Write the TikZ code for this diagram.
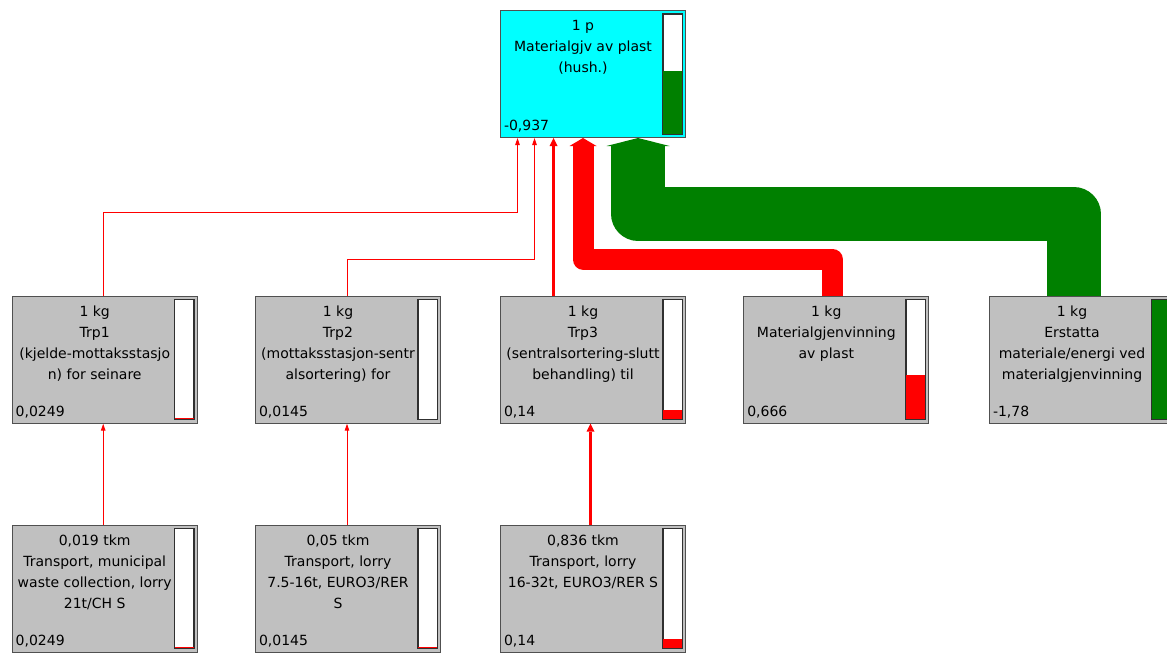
\documentclass[tikz,border=0pt]{standalone}
\usepackage{fontspec}
\setmainfont{DejaVu Sans}
\usetikzlibrary{arrows.meta,calc}
\definecolor{boxgray}{HTML}{C0C0C0}
\definecolor{topcyan}{HTML}{00FFFF}
\definecolor{flowred}{HTML}{FF0000}
\definecolor{flowgreen}{HTML}{008000}
\definecolor{edgegray}{HTML}{505050}
\definecolor{baredge}{HTML}{303030}
\tikzset{
  pbox/.style={draw=edgegray, line width=1pt, minimum width=185pt, minimum height=127pt, inner sep=0pt, anchor=north west},
  ptext/.style={align=center, inner sep=0pt, font=\fontsize{14}{21}\selectfont, anchor=north},
  pval/.style={inner sep=0pt, font=\fontsize{14}{21}\selectfont, anchor=base west},
  barbox/.style={draw=baredge, line width=1pt, fill=white, minimum width=19pt, minimum height=119.5pt, inner sep=0pt, anchor=north west},
  thinflow/.style={draw=flowred, line width=1pt, -{Triangle[length=7pt,width=4.5pt]}},
  midflow/.style={draw=flowred, line width=3.5pt, -{Triangle[length=8pt,width=8pt,line width=0pt]}},
  fatflow/.style={line width=#1, line join=round},
}
\newcommand\flowbox[8]{%
  \node[pbox, fill=#4] (#1) at (#2,#3) {};
  \node[ptext] (#1-t) at ($(#1.north west)+(83,10)$) {#5};
  \node[pval] (#1-v) at ($(#1.south west)+(3.8,-7.5)$) {#6};
  \node[barbox] (#1-b) at ($(#1.north west)+(162.5,3.5)$) {};
  \fill[#8] (#1-b.south west) rectangle ($(#1-b.south east)+(0,-#7*119.5)$);
  \draw[draw=baredge, line width=1pt] (#1-b.south west) rectangle (#1-b.north east);
}
\begin{document}
\begin{tikzpicture}[x=1pt,y=-1pt]
\useasboundingbox (0,0) rectangle (1167,653);
\clip (0,0) rectangle (1167,653);
% boxes
\flowbox{top}{500}{10}{topcyan}{1 p\\Materialgjv av plast\\(hush.)}{-0,937}{0.526}{flowgreen}
\flowbox{trp1}{11.7}{295.7}{boxgray}{1 kg\\Trp1\\(kjelde-mottaksstasjo\\n) for seinare}{0,0249}{0.015}{flowred}
\flowbox{trp2}{255}{295.7}{boxgray}{1 kg\\Trp2\\(mottaksstasjon-sentr\\alsortering) for}{0,0145}{0.009}{flowred}
\flowbox{trp3}{500}{295.7}{boxgray}{1 kg\\Trp3\\(sentralsortering-slutt\\behandling) til}{0,14}{0.079}{flowred}
\flowbox{mat}{743.3}{295.7}{boxgray}{1 kg\\Materialgjenvinning\\av plast}{0,666}{0.374}{flowred}
\flowbox{erst}{989}{295.7}{boxgray}{1 kg\\Erstatta\\materiale/energi ved\\materialgjenvinning}{-1,78}{1}{flowgreen}
\flowbox{tra}{11.7}{524.5}{boxgray}{0,019 tkm\\Transport, municipal\\waste collection, lorry\\21t/CH S}{0,0249}{0.015}{flowred}
\flowbox{trb}{255}{524.5}{boxgray}{0,05 tkm\\Transport, lorry\\7.5-16t, EURO3/RER\\S}{0,0145}{0.009}{flowred}
\flowbox{trc}{500}{524.5}{boxgray}{0,836 tkm\\Transport, lorry\\16-32t, EURO3/RER S}{0,14}{0.079}{flowred}
% connectors
\draw[fatflow=54pt, draw=flowgreen, -{Triangle[length=8pt,width=63pt,line width=0pt]}]
  ([xshift=-8.5pt]erst.north) -- ++(0,-82) -| ([xshift=45pt]top.south);
\draw[fatflow=21pt, draw=flowred, -{Triangle[length=8pt,width=27pt,line width=0pt]}]
  ([xshift=-4pt]mat.north) -- ++(0,-36.5) -| ([xshift=-10pt]top.south);
\draw[midflow] ([xshift=-39.5pt]trp3.north) -- ([xshift=-39.5pt]top.south);
\draw[thinflow] ([xshift=-1.5pt]trp1.north) -- ++(0,-83) -| ([xshift=-75.5pt]top.south);
\draw[thinflow] ([xshift=-1pt]trp2.north) -- ++(0,-36) -| ([xshift=-58.5pt]top.south);
\draw[thinflow] ([xshift=-1.5pt]tra.north) -- ([xshift=-1.5pt]trp1.south);
\draw[thinflow] ([xshift=-1pt]trb.north) -- ([xshift=-1pt]trp2.south);
\draw[midflow] ([xshift=-2.5pt]trc.north) -- ([xshift=-2.5pt]trp3.south);
\end{tikzpicture}
\end{document}
